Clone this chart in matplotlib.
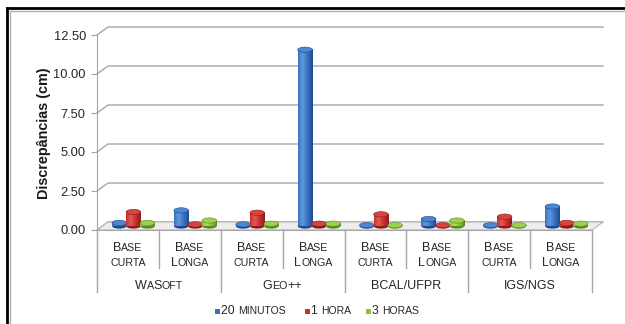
import numpy as np
import matplotlib.pyplot as plt
from matplotlib.colors import LinearSegmentedColormap
from matplotlib.patches import Ellipse, Polygon, Rectangle
from matplotlib.lines import Line2D
from matplotlib.font_manager import FontProperties

plt.rcParams['font.family'] = ['Liberation Sans', 'DejaVu Sans']

groups = ["WaSoft", "Geo++", "BCAL/UFPR", "IGS/NGS"]
bases = ["Base curta", "Base Longa"]
series = ["20 minutos", "1 hora", "3 horas"]

# discrepancies (cm), one value per (group, base) pair
min20 = [0.20, 1.00, 0.10, 11.30, 0.05, 0.45, 0.05, 1.25]
hora1 = [0.90, 0.10, 0.85, 0.15, 0.75, 0.05, 0.60, 0.20]
horas3 = [0.20, 0.35, 0.15, 0.15, 0.05, 0.35, 0.05, 0.15]

yticks = [0, 2.5, 5, 7.5, 10, 12.5]

# (dark edge, highlight, body, top) for each series
palette = [
    ("#1f4a8c", "#5f98e0", "#3a72c2", "#4d86d2"),
    ("#8c1c1a", "#e25a55", "#c8302e", "#d84440"),
    ("#5b8a1f", "#b3dc6a", "#8dc03c", "#9fd04e"),
]

W, H = 625, 324
fig = plt.figure(figsize=(W / 100, H / 100), dpi=100)
renderer = fig.canvas.get_renderer()

x0_px, x1_px, y0_px, y1_px = 97, 592, 230, 35
ax = fig.add_axes([x0_px / W, 1 - y0_px / H, (x1_px - x0_px) / W, (y0_px - y1_px) / H])
n = len(groups) * len(bases)
ax.set_xlim(0, n)
ax.set_ylim(0, 12.5)

# depth of the 3d box in data units
px_x = (x1_px - x0_px) / n
px_y = (y0_px - y1_px) / 12.5
DX = 11 / px_x
DY = 8 / px_y

for s in ["top", "right"]:
    ax.spines[s].set_visible(False)
for s in ["left", "bottom"]:
    ax.spines[s].set_color("#a6a6a6")
ax.set_xticks([])
ax.set_yticks(yticks)
ax.set_yticklabels([f"{v:.2f}" for v in yticks])
ax.tick_params(axis="y", length=4, color="#a6a6a6", labelsize=9.3,
               labelcolor="#262626", pad=4)

# back wall gridlines
for y in yticks:
    ax.plot([0, DX, n + DX], [y, y + DY, y + DY], color="#a6a6a6", lw=1,
            clip_on=False, zorder=0)

# floor
ax.add_patch(Polygon([(0, 0), (n, 0), (n + DX, DY), (DX, DY)], closed=True,
                     fc="#ededed", ec="#b4b4b4", lw=0.8, zorder=1, clip_on=False))

# cylinders
BW = 0.235
OFF = 0.228
EH = 0.34
base_y = DY / 2
grad = np.linspace(0, 1, 48).reshape(1, -1)
for k, vals in enumerate([min20, hora1, horas3]):
    dark, light, body, top = palette[k]
    cmap = LinearSegmentedColormap.from_list(
        f"cyl{k}", [(0, body), (0.3, light), (0.65, body), (1, dark)])
    xs = np.arange(n) + 0.5 + (k - 1) * OFF + DX / 2
    bars = ax.bar(xs, vals, width=BW, bottom=base_y, color=body,
                  zorder=3 + k, clip_on=False)
    for xc, v, b in zip(xs, vals, bars):
        ax.add_patch(Ellipse((xc, base_y), BW, EH, fc=dark, ec="none",
                             zorder=2.9 + k, clip_on=False))
        ax.imshow(grad, cmap=cmap, extent=(xc - BW / 2, xc + BW / 2, base_y, base_y + v),
                  aspect="auto", origin="lower", interpolation="bilinear",
                  zorder=3.05 + k, clip_on=False)
        ax.add_patch(Ellipse((xc, base_y + v), BW, EH, fc=top, ec=dark, lw=0.4,
                             zorder=3.1 + k, clip_on=False))
ax.set_xlim(0, n)
ax.set_ylim(0, 12.5)

# category separators below the floor
tr = ax.get_xaxis_transform()
sub_depth = (268 - y0_px) / (y0_px - y1_px)
grp_depth = (292 - y0_px) / (y0_px - y1_px)
for i in range(n + 1):
    d = grp_depth if i % 2 == 0 else sub_depth
    ax.plot([i, i], [0, -d], color="#a6a6a6", lw=1, transform=tr, clip_on=False)


def ink_width(s, size):
    prop = FontProperties(family=['Liberation Sans'], size=size)
    return renderer.get_text_width_height_descent(s, prop, ismath=False)[0]


def advance(s, size):
    # ink width of s twice minus once leaves the advance of s
    return ink_width(s + s, size) - ink_width(s, size)


def small_caps(x, y, text, big, small, ha="center", color="#262626"):
    runs = []
    for ch in text:
        sm = ch.islower()
        if runs and runs[-1][1] == sm:
            runs[-1][0] += ch.upper()
        else:
            runs.append([ch.upper(), sm])
    widths = [advance(r, small if sm else big) for r, sm in runs]
    cx = x - sum(widths) / 2 if ha == "center" else x
    for (r, sm), w in zip(runs, widths):
        fig.text(cx / W, 1 - y / H, r, size=small if sm else big, color=color,
                 ha="left", va="baseline")
        cx += w


def data_x_px(xd):
    return x0_px + xd * px_x


CAT_BIG, CAT_SMALL = 9.0, 7.7
for i in range(n):
    first, second = bases[i % 2].split()
    cx = data_x_px(i + 0.5)
    small_caps(cx, 251, first, CAT_BIG, CAT_SMALL)
    small_caps(cx, 266, second, CAT_BIG, CAT_SMALL)
for g, name in enumerate(groups):
    small_caps(data_x_px(2 * g + 1), 289, name, CAT_BIG, CAT_SMALL)

# legend
leg_x = [217, 307, 368]
for k, name in enumerate(series):
    fig.add_artist(Rectangle(((leg_x[k] - 2.5) / W, (H - 313.5) / H), 5 / W, 5 / H,
                             fc=palette[k][2], ec="none", transform=fig.transFigure))
    small_caps(leg_x[k] + 4, 314, name, 8.7, 7.5, ha="left")

fig.text(44 / W, 1 - 133.5 / H, "Discrepâncias (cm)", rotation=90, ha="center",
         va="center", fontweight="bold", size=10.4, color="#1a1a1a")

# frame around the chart area
fig.add_artist(Line2D([7 / W, 7 / W], [0, 1 - 8 / H], color="black", lw=2))
fig.add_artist(Line2D([7 / W, 1], [1 - 8 / H, 1 - 8 / H], color="black", lw=2))
fig.add_artist(Line2D([9.5 / W, 9.5 / W], [0, 1 - 10.5 / H], color="#b0b0b0", lw=1))
fig.add_artist(Line2D([9.5 / W, 1], [1 - 10.5 / H, 1 - 10.5 / H], color="#b0b0b0", lw=1))

fig.savefig("out.png", dpi=100)
